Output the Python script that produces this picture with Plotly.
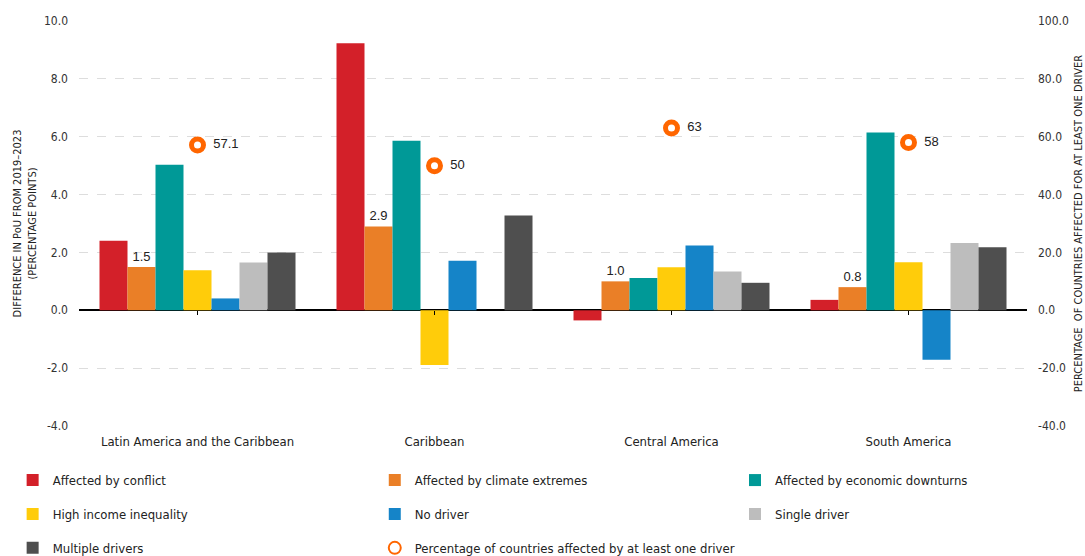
import plotly.graph_objects as go

# Regions and drivers
regions = ["Latin America and the Caribbean", "Caribbean", "Central America", "South America"]

conflict = [2.40, 9.23, -0.35, 0.36]
climate = [1.5, 2.9, 1.0, 0.8]
economic = [5.03, 5.86, 1.12, 6.15]
inequality = [1.38, -1.89, 1.49, 1.66]
no_driver = [0.41, 1.71, 2.24, -1.71]
single_driver = [1.65, None, 1.34, 2.33]
multiple_drivers = [2.00, 3.28, 0.95, 2.18]

pct_at_least_one = [57.1, 50, 63, 58]
pct_labels = ["57.1", "50", "63", "58"]

left_ticks = [-4, -2, 0, 2, 4, 6, 8, 10]
right_ticks = [-40, -20, 0, 20, 40, 60, 80, 100]

COND = "Liberation Sans Narrow, DejaVu Sans Condensed, Arial Narrow, sans-serif"
REG = "Liberation Sans, Arial, sans-serif"

# (name, values, colour, legend column)
series = [
    ("Affected by conflict", conflict, "#D32029", "legend"),
    ("Affected by climate extremes", climate, "#EA7F27", "legend2"),
    ("Affected by economic downturns", economic, "#009997", "legend3"),
    ("High income inequality", inequality, "#FFCC0A", "legend"),
    ("No driver", no_driver, "#1584C8", "legend2"),
    ("Single driver", single_driver, "#BDBDBD", "legend3"),
    ("Multiple drivers", multiple_drivers, "#4F4F4F", "legend"),
]

fig = go.Figure()
for name, vals, color, leg in series:
    is_climate = name == "Affected by climate extremes"
    fig.add_trace(go.Bar(
        name=name, x=regions, y=vals,
        marker=dict(color=color, line=dict(width=0)),
        text=[f"{v:.1f}" for v in vals] if is_climate else None,
        textposition="outside" if is_climate else None,
        textfont=dict(family=REG, size=13, color="#222222"),
        cliponaxis=False,
        legend=leg, legendgroup=name,
    ))

fig.add_trace(go.Scatter(
    name="Percentage of countries affected by at least one driver",
    x=regions, y=pct_at_least_one, yaxis="y2",
    mode="markers+text",
    marker=dict(symbol="circle", size=12, color="white",
                line=dict(color="#FF6600", width=5)),
    text=["  " + t for t in pct_labels], textposition="middle right",
    textfont=dict(family=REG, size=13, color="#222222"),
    cliponaxis=False,
    legend="legend2", legendgroup="pct",
))

# helper trace so the overlay x-axis draws its tick marks on the zero line
fig.add_trace(go.Scatter(x=regions, y=[None] * 4, xaxis="x2", showlegend=False,
                         hoverinfo="skip"))

axis_font = dict(family=COND, size=12, color="#333333")

fig.update_layout(
    width=1085, height=556,
    margin=dict(l=79, r=58, t=21, b=130, autoexpand=False),
    plot_bgcolor="white", paper_bgcolor="white",
    barmode="group", bargap=0.173, bargroupgap=0,
    font=dict(family=COND, size=13, color="#222222"),
    xaxis=dict(
        showline=False, showgrid=False, ticks="", ticklabelstandoff=6,
        tickfont=dict(family=COND, size=13, color="#222222"),
    ),
    xaxis2=dict(
        overlaying="x", matches="x", anchor="free", position=4 / 14,
        showline=False, showgrid=False, ticks="outside", ticklen=4,
        tickcolor="#000000", showticklabels=False,
    ),
    yaxis=dict(
        range=[-4, 10], tickvals=left_ticks,
        ticktext=[f"{v:.1f}" for v in left_ticks],
        showgrid=True, gridcolor="#DDDDDD", griddash="dash", gridwidth=1,
        zeroline=True, zerolinecolor="#000000", zerolinewidth=1.8,
        showline=False, ticks="", ticklabelstandoff=10,
        tickfont=axis_font,
        title=dict(text="DIFFERENCE IN PoU FROM 2019–2023<br>(PERCENTAGE POINTS)",
                   font=dict(family=COND, size=11, color="#222222"), standoff=5),
    ),
    yaxis2=dict(
        overlaying="y", side="right", range=[-40, 100], tickvals=right_ticks,
        ticktext=[f"{v:.1f}" for v in right_ticks],
        showgrid=False, zeroline=False, showline=False,
        ticks="", ticklabelstandoff=10, tickfont=axis_font,
        title=dict(text="PERCENTAGE  OF COUNTRIES AFFECTED FOR AT LEAST ONE DRIVER",
                   font=dict(family=COND, size=11, color="#222222"), standoff=6),
    ),
)

legend_common = dict(
    orientation="v", xanchor="left", yanchor="top",
    font=dict(family=COND, size=13, color="#222222"),
    bgcolor="rgba(0,0,0,0)", itemsizing="constant",
    traceorder="grouped", tracegroupgap=14,
)
fig.update_layout(
    legend=dict(x=-0.07, y=-0.0966, **legend_common),
    legend2=dict(x=0.312, y=-0.0966, **legend_common),
    legend3=dict(x=0.692, y=-0.0966, **legend_common),
)

fig.write_html("out.html")
